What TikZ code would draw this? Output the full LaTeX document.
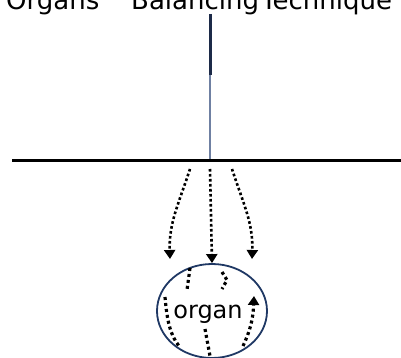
\documentclass[tikz,border=0pt]{standalone}
\usepackage{fontspec}
\setmainfont{DejaVu Sans}
\usetikzlibrary{arrows.meta,shapes.geometric}
\definecolor{navy}{HTML}{1F3864}
\definecolor{needledark}{HTML}{1C2A48}
\definecolor{needlethin}{HTML}{6F80A2}
\tikzset{
  heading/.style={anchor=base west, inner sep=0pt, font=\fontsize{26}{26}\selectfont},
  organlabel/.style={anchor=base, inner sep=0pt, font=\fontsize{24}{24}\selectfont},
  tipshape/.style={-{Triangle[width=11pt,length=9pt]}},
  flow/.style={line width=2.6pt, dash pattern=on 2.6pt off 2.4pt, tipshape},
  swirl/.style={line width=3.2pt, dash pattern=on 3pt off 3pt},
  organbody/.style={draw=navy, line width=1.8pt, ellipse, minimum width=110pt,
    minimum height=94pt, inner sep=0pt}
}
\begin{document}
\begin{tikzpicture}[x=1pt,y=-1pt]
\useasboundingbox (0,0) rectangle (401,358);
\clip (0,0) rectangle (401,358);

% title
\node[heading] (t1) at (6,10) {Organs};
\node[heading] (t2) at (131,10) {Balancing};
\node[heading] (t3) at (261,10) {Technique};

% needle: shaft and thin tip
\coordinate (nTop) at (210,14);
\coordinate (nMid) at (210,75);
\coordinate (nTip) at (210,160);
\draw[needledark, line width=3pt] (nTop) -- (nMid);
\draw[needlethin, line width=1.3pt] (nMid) -- (nTip);

% skin surface
\coordinate (sL) at (12,160.5);
\coordinate (sR) at (401,160.5);
\draw[line width=3.2pt] (sL) -- (sR);

% organ
\node[organbody] (organ) at (212,311) {};
\node[organlabel] (lbl) at (208,318) {organ};

% flows from the needle tip into the organ
\coordinate (pL) at (190,169);
\coordinate (pM) at (210,169);
\coordinate (pR) at (232,169);
\coordinate (tL) at (170,259);
\coordinate (tR) at (252,259);
\draw[flow] (pL) to[out=-108,in=92] (tL);
\draw[flow] (pM) -- (organ.north);
\draw[flow] (pR) to[out=-72,in=88] (tR);

% circulation inside the organ
\draw[swirl] (190,268) -- (187,290);
\draw[swirl] (165,297) .. controls (167,320) and (170,335) .. (179,346);
\draw[swirl] (205,329) -- (210,356);
\draw[swirl] (222,272) -- (227,280) -- (222,289);
\draw[swirl, tipshape] (243,346) .. controls (250,331) and (253,320) .. (254,296);
\end{tikzpicture}
\end{document}
